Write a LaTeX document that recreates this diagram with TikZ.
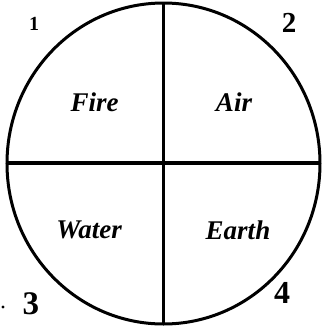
\documentclass[tikz,border=0pt]{standalone}
\usepackage{fontspec}
\newfontfamily\tnr{Liberation Serif}
\begin{document}
\begin{tikzpicture}[x=1pt,y=-1pt,
  element/.style={font=\tnr\bfseries\itshape\fontsize{27}{29}\selectfont, inner sep=0pt},
  numlabel/.style={font=\tnr\bfseries\fontsize{24}{26}\selectfont, inner sep=0pt},
  ring/.style={line width=3pt},
  bar/.style={line width=3.6pt}]
\useasboundingbox (0,0) rectangle (324,327);
\coordinate (c) at (163.5,163.5);
\coordinate (top) at (163.5,3);
\coordinate (bottom) at (163.5,324);
\coordinate (left) at (7,163);
\coordinate (right) at (320,163);
\draw[ring] (c) ellipse [x radius=156.5, y radius=160.5];
\draw[bar] (top) -- (bottom);
\draw[bar] (left) -- (right);
\node[element] (fire) at (94.5,102) {Fire};
\node[element] (air) at (234,102) {Air};
\node[element] (water) at (89,230) {Water};
\node[element] (earth) at (238,230) {Earth};
\node[numlabel, font=\tnr\bfseries\fontsize{20}{22}\selectfont] (n1) at (34,24) {1};
\node[numlabel, font=\tnr\bfseries\fontsize{29}{31}\selectfont] (n2) at (289,23) {2};
\node[numlabel, font=\tnr\bfseries\fontsize{33}{35}\selectfont] (n3) at (31,304) {3};
\node[numlabel, font=\tnr\bfseries\fontsize{32}{34}\selectfont] (n4) at (282,293) {4};
\node[circle, fill=black, inner sep=1.2pt] (dot) at (3,307) {};
\end{tikzpicture}
\end{document}
